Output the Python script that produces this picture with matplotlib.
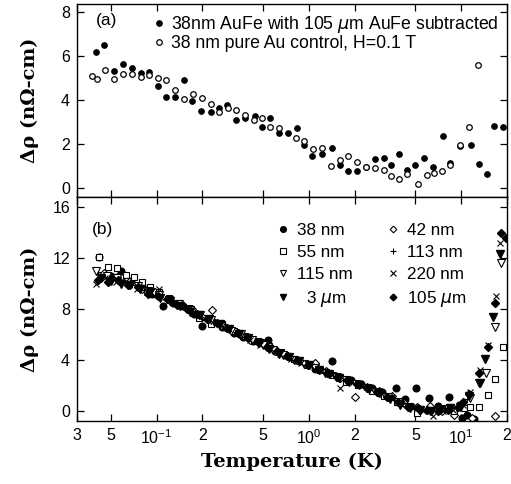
import matplotlib
matplotlib.use("Agg")
import matplotlib.pyplot as plt

# ---------------- data: panel (a) ----------------
a_fe_T = [0.0397, 0.0454, 0.0521, 0.0602, 0.0684, 0.0786, 0.0885, 0.1016, 0.1154, 0.1318,
          0.1514, 0.172, 0.197, 0.226, 0.256, 0.292, 0.330, 0.379, 0.440, 0.493,
          0.552, 0.632, 0.724, 0.834, 0.927, 1.05, 1.22, 1.41, 1.60, 1.81,
          2.07, 2.36, 2.70, 3.09, 3.45, 3.92, 4.40, 5.01, 5.71, 6.55,
          7.58, 8.47, 9.80, 11.57, 13.0, 14.7, 16.5, 18.7]
a_fe_rho = [6.21, 6.49, 5.33, 5.65, 5.48, 5.25, 5.30, 4.64, 4.14, 4.14,
            4.90, 3.95, 3.51, 3.47, 3.62, 3.76, 3.11, 3.18, 3.28, 2.75,
            3.17, 2.48, 2.50, 2.74, 1.96, 1.46, 1.54, 1.81, 1.05, 0.76,
            0.76, 0.94, 1.31, 1.34, 1.05, 1.52, 0.81, 1.03, 1.35, 0.94,
            2.37, 1.13, 1.89, 1.95, 1.10, 0.64, 2.82, 2.75]

a_au_T = [0.0378, 0.0406, 0.0461, 0.0521, 0.0598, 0.0691, 0.079, 0.0893, 0.1016, 0.1154,
          0.1324, 0.151, 0.174, 0.199, 0.226, 0.258, 0.294, 0.334, 0.378, 0.438,
          0.493, 0.555, 0.636, 0.822, 0.927, 1.07, 1.22, 1.39, 1.60, 1.81,
          2.08, 2.36, 2.70, 3.09, 3.45, 3.92, 4.40, 5.19, 5.92, 6.65,
          7.50, 8.47, 9.80, 11.2, 12.9]
a_au_rho = [5.10, 4.98, 5.37, 4.95, 5.19, 5.19, 5.05, 5.13, 5.02, 4.90,
            4.46, 4.05, 4.29, 4.09, 3.82, 3.47, 3.65, 3.54, 3.31, 3.10,
            3.19, 2.77, 2.71, 2.28, 2.12, 1.78, 1.81, 0.99, 1.28, 1.46,
            1.16, 0.94, 0.91, 0.81, 0.55, 0.41, 0.62, 0.18, 0.56, 0.67,
            0.75, 1.05, 1.95, 2.79, 5.59]

# ---------------- data: panel (b) ----------------
b38_T = [0.042, 0.05, 0.058, 0.068, 0.08, 0.093, 0.11, 0.128, 0.15, 0.175,
         0.2, 0.235, 0.27, 0.32, 0.37, 0.43, 0.5, 0.54, 0.6, 0.7,
         0.82, 0.95, 1.1, 1.41, 1.6, 1.9, 2.2, 2.6, 3.0, 3.74,
         4.3, 5.06, 6.13, 7.0, 8.3, 10.1, 11.0, 12.1]
b38_rho = [12.1, 10.6, 11.0, 10.2, 9.8, 9.2, 8.2, 8.5, 8.2, 7.6,
           6.7, 7.0, 6.6, 6.1, 5.8, 5.5, 5.3, 5.6, 4.7, 4.4,
           4.0, 3.7, 3.3, 3.95, 2.7, 2.4, 2.1, 1.8, 1.5, 1.8,
           0.9, 1.8, 1.05, 0.4, 1.1, -0.55, -0.3, -0.6]

b42_T = [0.045, 0.055, 0.066, 0.08, 0.097, 0.117, 0.14, 0.17, 0.2, 0.23,
         0.28, 0.34, 0.41, 0.5, 0.6, 0.73, 0.88, 1.1, 1.3, 1.6,
         2.0, 2.4, 2.9, 3.5, 4.2, 5.1, 6.2, 7.5, 9.0, 11.7, 16.6]
b42_rho = [10.8, 10.5, 10.0, 9.6, 9.3, 8.8, 8.3, 8.0, 7.4, 7.9,
           6.6, 6.1, 5.6, 5.3, 4.7, 4.3, 3.9, 3.74, 3.1, 2.6,
           1.12, 1.9, 1.6, 1.2, 0.6, 0.3, 0.4, 0.0, -0.3, -0.57, -0.4]

b55_T = [0.042, 0.048, 0.055, 0.063, 0.071, 0.080, 0.091, 0.104, 0.12, 0.14,
         0.16, 0.19, 0.226, 0.27, 0.32, 0.38, 0.46, 0.55, 0.66, 0.8,
         0.97, 1.18, 1.44, 1.75, 2.1, 2.6, 3.1, 3.8, 4.6, 5.1,
         6.2, 7.5, 9.0, 10.5, 11.5, 13.1, 14.9, 16.8, 18.8]
b55_rho = [12.1, 11.3, 11.2, 10.7, 10.5, 10.1, 9.7, 9.3, 8.9, 8.5,
           8.1, 7.3, 6.8, 6.8, 6.3, 5.9, 5.5, 5.1, 4.6, 4.1,
           3.6, 3.2, 2.8, 2.3, 2.0, 1.6, 1.2, 0.7, 0.4, -0.2,
           0.1, 0.2, 0.0, 0.2, 0.29, 0.34, 1.25, 2.5, 5.04]

b113_T = [0.041, 0.049, 0.058, 0.069, 0.082, 0.098, 0.116, 0.138, 0.165, 0.196,
          0.234, 0.28, 0.33, 0.39, 0.47, 0.56, 0.67, 0.8, 0.95, 1.13,
          1.35, 1.6, 1.9, 2.3, 2.7, 3.2, 3.8, 4.6, 5.4, 6.5,
          7.7, 9.2, 11.0]
b113_rho = [10.9, 10.5, 10.2, 9.9, 9.5, 9.1, 8.7, 8.3, 7.9, 7.4,
            7.0, 6.6, 6.2, 5.8, 5.4, 5.0, 4.5, 4.1, 3.7, 3.3,
            2.9, 2.6, 2.3, 1.9, 1.6, 1.2, 0.7, 0.3, 0.2, 0.1,
            0.1, 0.2, 0.9]

b115_T = [0.040, 0.047, 0.055, 0.064, 0.075, 0.088, 0.103, 0.12, 0.14, 0.165,
          0.193, 0.226, 0.265, 0.31, 0.36, 0.42, 0.5, 0.58, 0.68, 0.8,
          0.93, 1.09, 1.28, 1.5, 1.75, 2.05, 2.4, 2.8, 3.3, 3.85,
          4.5, 5.3, 6.2, 7.2, 8.4, 9.8, 11.5, 13.1, 14.6, 16.6, 18.3]
b115_rho = [11.0, 10.6, 10.4, 10.1, 9.8, 9.4, 9.1, 8.7, 8.4, 7.9,
            7.5, 7.1, 6.7, 6.3, 6.0, 5.6, 5.2, 4.8, 4.4, 4.0,
            3.7, 3.4, 3.0, 2.7, 2.4, 2.1, 1.8, 1.5, 1.1, 0.7,
            0.3, 0.1, 0.0, 0.1, 0.2, 0.3, 1.0, 2.2, 3.0, 6.56, 11.6]

b3um_T = [0.043, 0.05, 0.058, 0.067, 0.078, 0.09, 0.105, 0.122, 0.142, 0.165,
          0.19, 0.22, 0.26, 0.3, 0.35, 0.4, 0.47, 0.55, 0.64, 0.74,
          0.86, 1.0, 1.16, 1.35, 1.57, 1.83, 2.13, 2.48, 2.9, 3.4,
          3.95, 4.6, 5.4, 6.3, 7.3, 8.5, 9.9, 11.3, 13.2, 14.4, 16.1, 17.9]
b3um_rho = [10.4, 10.2, 10.0, 9.9, 9.6, 9.3, 8.9, 8.6, 8.2, 7.8,
            7.5, 7.2, 6.8, 6.4, 6.0, 5.7, 5.3, 4.9, 4.5, 4.2,
            3.9, 3.6, 3.2, 2.9, 2.6, 2.3, 2.0, 1.7, 1.4, 0.9,
            0.5, 0.2, 0.1, 0.0, 0.1, 0.2, 0.4, 1.2, 2.2, 4.1, 7.4, 12.3]

b220_T = [0.040, 0.046, 0.054, 0.063, 0.074, 0.087, 0.104, 0.12, 0.14, 0.163,
          0.19, 0.222, 0.26, 0.3, 0.35, 0.41, 0.48, 0.56, 0.65, 0.76,
          0.89, 1.04, 1.21, 1.41, 1.61, 1.9, 2.2, 2.57, 3.0, 3.5,
          4.1, 4.8, 5.6, 6.5, 7.6, 8.9, 10.3, 11.5, 13.3, 15.0, 16.9, 18.1]
b220_rho = [10.0, 10.4, 10.1, 10.2, 9.6, 9.3, 9.57, 8.8, 8.4, 8.0,
            7.6, 7.2, 6.8, 6.4, 6.1, 5.6, 5.2, 4.9, 4.5, 4.1,
            3.8, 3.5, 3.1, 2.8, 1.8, 2.3, 2.0, 1.7, 1.3, 0.9,
            0.5, 0.2, 0.0, -0.4, 0.0, 0.1, 0.5, 1.5, 3.2, 5.18, 9.0, 13.15]

b105_T = [0.041, 0.048, 0.056, 0.065, 0.076, 0.088, 0.102, 0.118, 0.137, 0.159,
          0.185, 0.215, 0.25, 0.29, 0.34, 0.39, 0.46, 0.53, 0.62, 0.72,
          0.84, 0.98, 1.14, 1.32, 1.54, 1.79, 2.08, 2.42, 2.82, 3.28,
          3.82, 4.45, 5.2, 6.0, 7.0, 8.2, 9.5, 10.3, 11.3, 13.0, 14.9, 16.8, 18.3, 19.7]
b105_rho = [10.3, 10.1, 10.3, 9.9, 9.7, 9.2, 9.0, 8.8, 8.3, 8.0,
            7.6, 7.2, 6.9, 6.5, 6.1, 5.8, 5.4, 5.0, 4.7, 4.3,
            4.0, 3.6, 3.3, 3.0, 2.7, 2.4, 2.1, 1.8, 1.5, 1.1,
            0.7, 0.3, 0.2, 0.1, 0.0, 0.1, 0.3, 0.7, 1.3, 3.0, 5.0, 8.5, 14.0, 13.6]

x_ticks = [0.03, 0.05, 0.1, 0.2, 0.5, 1, 2, 5, 10, 20]
x_ticklabels = ['3', '5', r'$\mathregular{10^{-1}}$', '2', '5', r'$\mathregular{10^{0}}$',
                '2', '5', r'$\mathregular{10^{1}}$', '2']

# ---------------- figure ----------------
plt.rcParams['font.family'] = ['Liberation Sans', 'DejaVu Sans']
plt.rcParams['mathtext.fontset'] = 'dejavusans'
fig = plt.figure(figsize=(5.11, 4.84), dpi=100)
ax1 = fig.add_axes([0.1507, 0.593, 0.8415, 0.3987])
ax2 = fig.add_axes([0.1507, 0.130, 0.8415, 0.463])

tick_fs = 11.5
lab_font = dict(family='DejaVu Serif', weight='bold', size=14)

for ax in (ax1, ax2):
    ax.set_xscale('log')
    ax.set_xlim(0.03, 20)
    ax.set_xticks(x_ticks)
    ax.minorticks_off()
    ax.tick_params(which='both', direction='in', top=True, right=True,
                   length=5, width=0.9, labelsize=tick_fs, pad=5)
    for s in ax.spines.values():
        s.set_linewidth(1.0)

ax1.set_xticklabels([])
ax2.set_xticklabels(x_ticklabels)

# panel (a)
ms = 4.0
ax1.plot(a_fe_T, a_fe_rho, 'o', color='black', ms=ms, mew=0.8, ls='none',
         label=r'38nm AuFe with 105 $\mu$m AuFe subtracted')
ax1.plot(a_au_T, a_au_rho, 'o', mfc='white', mec='black', ms=ms, mew=0.9, ls='none',
         label='38 nm pure Au control, H=0.1 T')
ax1.set_ylim(-0.42, 8.38)
ax1.set_yticks([0, 2, 4, 6, 8])
ax1.set_ylabel('Δρ (nΩ-cm)', fontdict=lab_font)
ax1.yaxis.set_label_coords(-0.088, 0.5)
ax1.text(0.044, 0.917, '(a)', transform=ax1.transAxes, fontsize=12.5, va='center')
leg1 = ax1.legend(loc='upper left', bbox_to_anchor=(0.158, 0.995), frameon=False,
                  handlelength=0.6, handletextpad=0.4, fontsize=12.7,
                  borderpad=0.0, labelspacing=0.0, markerscale=1.0)

# panel (b)
ms2 = 4.8
msd = 4.0
h = {}
h['38'] = ax2.plot(b38_T, b38_rho, 'o', color='black', ms=ms2, ls='none', label='38 nm')[0]
h['42'] = ax2.plot(b42_T, b42_rho, 'D', mfc='white', mec='black', ms=msd, mew=0.8, ls='none', label='42 nm')[0]
h['55'] = ax2.plot(b55_T, b55_rho, 's', mfc='white', mec='black', ms=ms2, mew=0.8, ls='none', label='55 nm')[0]
h['113'] = ax2.plot(b113_T, b113_rho, '+', color='black', ms=ms2, mew=0.8, ls='none', label='113 nm')[0]
h['115'] = ax2.plot(b115_T, b115_rho, 'v', mfc='white', mec='black', ms=ms2 + 0.5, mew=0.8, ls='none', label='115 nm')[0]
h['220'] = ax2.plot(b220_T, b220_rho, 'x', color='black', ms=ms2, mew=0.8, ls='none', label='220 nm')[0]
h['3'] = ax2.plot(b3um_T, b3um_rho, 'v', color='black', ms=ms2 + 0.5, ls='none', label=r'  3 $\mu$m')[0]
h['105'] = ax2.plot(b105_T, b105_rho, 'D', color='black', ms=msd, ls='none', label=r'105 $\mu$m')[0]

ax2.set_ylim(-0.8, 16.8)
ax2.set_yticks([0, 4, 8, 12, 16])
ax2.set_ylabel('Δρ (nΩ-cm)', fontdict=lab_font)
ax2.yaxis.set_label_coords(-0.088, 0.5)
ax2.set_xlabel('Temperature (K)', fontdict=dict(family='DejaVu Serif', weight='bold', size=14))
ax2.text(0.035, 0.853, '(b)', transform=ax2.transAxes, fontsize=12.5, va='center')
order = ['38', '55', '115', '3', '42', '113', '220', '105']
leg2 = ax2.legend([h[k] for k in order], [h[k].get_label() for k in order],
                  loc='upper left', bbox_to_anchor=(0.447, 0.92), ncol=2, frameon=False,
                  handlelength=0.6, handletextpad=0.5, fontsize=12.3,
                  borderpad=0.0, labelspacing=0.4, columnspacing=2.1, markerscale=0.85)

fig.savefig('out.png', dpi=100)
